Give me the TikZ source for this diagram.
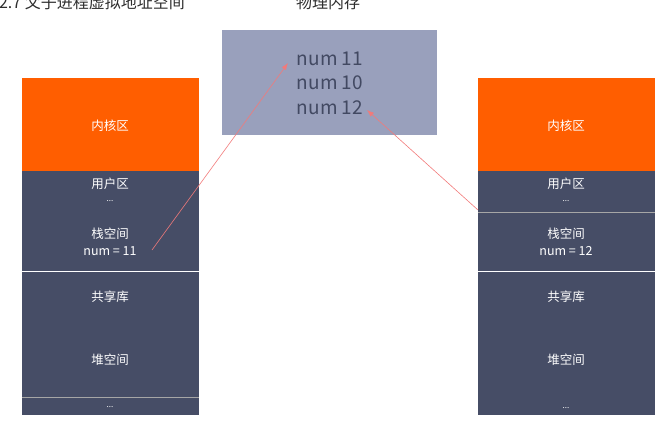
\documentclass[tikz,border=0pt]{standalone}
\usepackage{fontspec}
\setmainfont{Noto Sans CJK SC}
\usetikzlibrary{positioning,arrows.meta}
\definecolor{kernelorange}{HTML}{FF5E00}
\definecolor{userslate}{HTML}{464D66}
\definecolor{physblue}{HTML}{99A0BC}
\definecolor{memtext}{HTML}{424962}
\definecolor{linkred}{HTML}{F27A7A}
\definecolor{titlegray}{HTML}{2E2E2E}
\tikzset{
  segtext/.style={text=white, font=\fontsize{12.5}{14}\selectfont, inner sep=0pt},
  memtxt/.style={text=memtext, font=\fontsize{19}{22}\selectfont, inner sep=0pt},
  titletxt/.style={text=titlegray, font=\fontsize{16}{18}\selectfont, inner sep=0pt, anchor=base},
  linkarrow/.style={-{Latex[length=7pt,width=5pt]}, linkred, line width=0.6pt}
}
\begin{document}
\begin{tikzpicture}[x=1pt,y=-1pt]
  \useasboundingbox (0,0) rectangle (665,424);
  \def\colleft{22}
  \def\colright{478}
  \def\colwidth{177}

  % titles, cut by the top of the page
  \node[titletxt, anchor=base east] (vtitle) at (185,8) {2.7 父子进程虚拟地址空间};
  \node[titletxt] (ptitle) at (328,8) {物理内存};

  % physical memory
  \fill[physblue] (222,30) rectangle (437,135);
  \node[memtxt] (mem11) at (330,59) {num 11};
  \node[memtxt] (mem10) at (330,83) {num 10};
  \node[memtxt] (mem12) at (330,108) {num 12};

  % parent process
  \fill[kernelorange] (\colleft,78) rectangle ++(\colwidth,93);
  \fill[userslate] (\colleft,171) rectangle ++(\colwidth,244);
  \draw[white, line width=0.8pt] (\colleft,271) -- ++(\colwidth,0);
  \draw[gray!70, line width=0.8pt] (\colleft,397) -- ++(\colwidth,0);
  \node[segtext] (pkernel) at (110,126) {内核区};
  \node[segtext] (puser) at (110,184) {用户区};
  \node[segtext, font=\fontsize{8}{9}\selectfont] (pdots1) at (110,201) {...};
  \node[segtext] (pstack) at (110,234) {栈空间};
  \node[segtext] (pnum) at (110,251) {num = 11};
  \node[segtext] (plib) at (110,297) {共享库};
  \node[segtext] (pheap) at (110,360) {堆空间};
  \node[segtext, font=\fontsize{8}{9}\selectfont] (pdots2) at (110,407) {...};

  % child process
  \fill[kernelorange] (\colright,78) rectangle ++(\colwidth,93);
  \fill[userslate] (\colright,171) rectangle ++(\colwidth,244);
  \draw[gray!70, line width=0.8pt] (\colright,212) -- ++(\colwidth,0);
  \draw[white, line width=0.8pt] (\colright,271) -- ++(\colwidth,0);
  \node[segtext] (ckernel) at (566,126) {内核区};
  \node[segtext] (cuser) at (566,184) {用户区};
  \node[segtext, font=\fontsize{8}{9}\selectfont] (cdots1) at (566,201) {...};
  \node[segtext] (cstack) at (566,234) {栈空间};
  \node[segtext] (cnum) at (566,251) {num = 12};
  \node[segtext] (clib) at (566,297) {共享库};
  \node[segtext] (cheap) at (566,360) {堆空间};
  \node[segtext, font=\fontsize{8}{9}\selectfont] (cdots2) at (566,408) {...};

  % mapping to physical memory
  \coordinate (pfrom) at (152,250);
  \coordinate (pto) at (288,63);
  \coordinate (cfrom) at (478,210);
  \coordinate (cto) at (367,110);
  \draw[linkarrow] (pfrom) -- (pto);
  \draw[linkarrow] (cfrom) -- (cto);
\end{tikzpicture}
\end{document}
